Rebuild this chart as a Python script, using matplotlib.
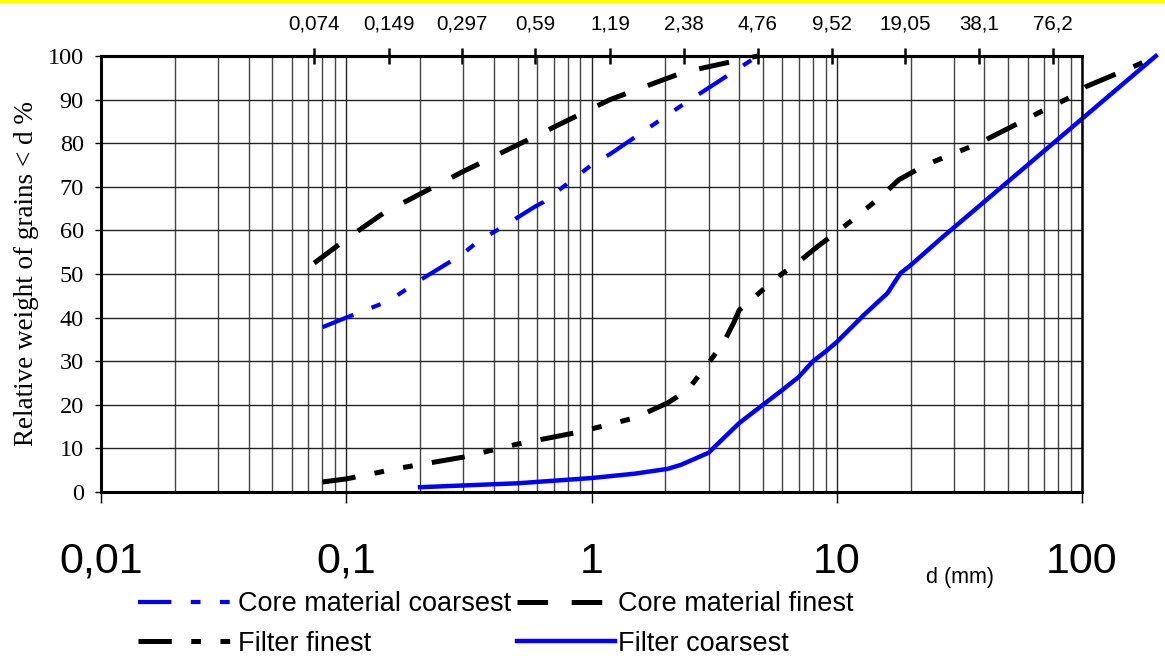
import matplotlib
matplotlib.use("Agg")
import matplotlib.pyplot as plt
import numpy as np
from matplotlib.ticker import LogLocator, NullLocator, FixedLocator, FixedFormatter
from matplotlib.patches import Rectangle

plt.rcParams['lines.scale_dashes'] = False

# ---- data ----
core_coarsest_d = [0.08, 0.1, 0.149, 0.2, 0.297, 0.343, 0.425, 0.59, 0.637, 1.0, 1.19, 2.38, 4.76]
core_coarsest_p = [37.8, 40.0, 43.8, 48.6, 54.5, 57.4, 60.5, 65.5, 66.5, 75.0, 77.5, 89.0, 100.0]

core_finest_d = [0.074, 0.1, 0.138, 0.149, 0.18, 0.297, 0.59, 1.19, 2.38, 4.76]
core_finest_p = [52.5, 58.0, 63.5, 64.7, 67.0, 73.4, 81.6, 90.0, 96.3, 100.0]

filter_finest_d = [0.08, 0.1, 0.166, 0.3, 0.5, 0.9, 1.5, 2.04, 2.47, 3.0, 3.45, 3.8, 4.0, 5.1,
                   5.9, 7.0, 8.3, 10.0, 11.6, 15.1, 17.9, 23.0, 38.1, 70.0, 90.0, 104.0, 169.0, 200.0]
filter_finest_p = [2.3, 3.0, 5.5, 8.0, 11.0, 13.8, 17.0, 20.4, 23.4, 29.6, 34.2, 38.8, 41.7, 46.8,
                   49.8, 52.8, 56.2, 59.6, 62.4, 67.7, 71.6, 75.0, 80.0, 87.6, 90.6, 93.0, 98.0, 100.0]

filter_coarsest_d = [0.2, 0.5, 1.0, 1.5, 2.04, 2.31, 3.0, 4.0, 5.0, 6.0, 7.0, 8.0, 9.0, 10.0,
                     12.9, 16.1, 18.2, 20.0, 26.8, 40.0, 100.0, 200.0]
filter_coarsest_p = [1.1, 2.0, 3.2, 4.2, 5.3, 6.2, 9.0, 15.8, 20.0, 23.4, 26.4, 30.0, 32.2, 34.4,
                     40.6, 45.6, 50.2, 52.0, 58.3, 66.6, 85.6, 100.0]

bottom_ticks = [0.01, 0.1, 1, 10, 100]
bottom_labels = ["0,01", "0,1", "1", "10", "100"]
sieve_ticks = [0.074, 0.149, 0.297, 0.59, 1.19, 2.38, 4.76, 9.52, 19.05, 38.1, 76.2]
sieve_labels = ["0,074", "0,149", "0,297", "0,59", "1,19", "2,38", "4,76", "9,52", "19,05", "38,1", "76,2"]
y_ticks = [0, 10, 20, 30, 40, 50, 60, 70, 80, 90, 100]

W, H = 1165, 656
fig = plt.figure(figsize=(W / 100, H / 100), dpi=100)
fig.patches.append(Rectangle((0, 1 - 2.5 / H), 1, 2.5 / H, transform=fig.transFigure,
                             facecolor='#FFFF00', edgecolor='none'))
ax = fig.add_axes([101 / W, 1 - 492 / H, (1082 - 101) / W, (492 - 56) / H])

ax.set_xscale('log')
ax.set_xlim(0.01, 100)
ax.set_ylim(0, 100)

sans = 'Liberation Sans'
serif = 'Liberation Serif'

# grid
ax.xaxis.set_major_locator(FixedLocator(bottom_ticks))
ax.xaxis.set_major_formatter(FixedFormatter(bottom_labels))
ax.xaxis.set_minor_locator(LogLocator(base=10, subs=np.arange(2, 10)))
ax.grid(True, which='major', axis='both', color='#222222', lw=1.0)
ax.grid(True, which='minor', axis='x', color='#444444', lw=1.0)
ax.set_axisbelow(True)
ax.tick_params(axis='x', which='minor', length=0, labelbottom=False)
ax.tick_params(axis='x', which='major', direction='out', length=8, width=1.0,
               labelsize=31, pad=28)
for lab in ax.get_xticklabels():
    lab.set_family(sans)
ax.set_yticks(y_ticks)
ax.tick_params(axis='y', direction='out', length=4, width=1.0, labelsize=17.5, pad=8.5)
for lab in ax.get_yticklabels():
    lab.set_family(serif)
ax.set_ylabel("Relative weight of grains < d %", family=serif, fontsize=19.5, labelpad=6)

for side in ['left', 'bottom', 'top']:
    ax.spines[side].set_linewidth(2.2)
ax.spines['right'].set_linewidth(1.8)

# top sieve axis
sec = ax.secondary_xaxis('top')
sec.set_xticks(sieve_ticks, labels=sieve_labels)
sec.xaxis.set_minor_locator(NullLocator())
sec.tick_params(axis='x', direction='inout', length=12, width=1.8, labelsize=14.8, pad=10)
for lab in sec.get_xticklabels():
    lab.set_family(sans)
sec.spines['top'].set_linewidth(2.2)

# curves
l1, = ax.plot(core_coarsest_d, core_coarsest_p, color='#0000FF', lw=3,
              dashes=(24, 14, 7, 14, 7, 14), clip_on=False, label='Core material coarsest')
l2, = ax.plot(core_finest_d, core_finest_p, color='black', lw=3.6,
              dashes=(22, 17), clip_on=False, label='Core material finest')
l3, = ax.plot(filter_finest_d, filter_finest_p, color='black', lw=3.6,
              dashes=(24, 14, 7, 14, 7, 14), clip_on=False, label='Filter finest')
l4, = ax.plot(filter_coarsest_d, filter_coarsest_p, color='#0000FF', lw=3.2,
              clip_on=False, label='Filter coarsest')

fig.text(960 / W, 1 - 577 / H, "d (mm)", family=sans, fontsize=15.5, ha='center', va='center')

leg = fig.legend(handles=[l1, l3, l2, l4], ncol=2, loc='upper left',
                 bbox_to_anchor=(138 / W, 1 - 591 / H), frameon=False,
                 prop={'family': sans, 'size': 19.5}, handlelength=3.6, handletextpad=0.1,
                 columnspacing=0.22, labelspacing=0.5, borderpad=0, borderaxespad=0)

fig.savefig("out.png", dpi=100)
